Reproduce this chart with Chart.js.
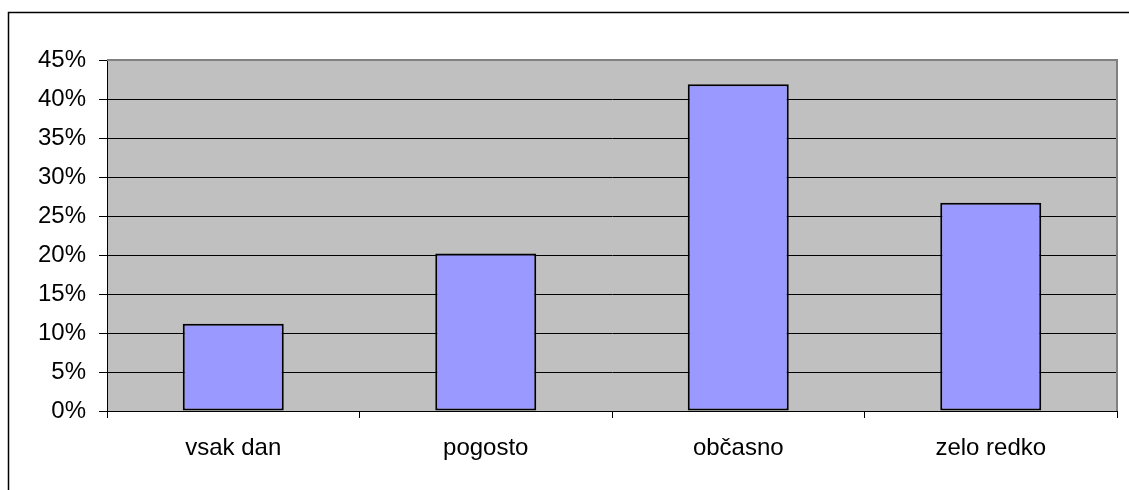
<!DOCTYPE html>
<html>
<head>
<meta charset="utf-8">
<script src="https://cdn.jsdelivr.net/npm/chart.js@4/dist/chart.umd.min.js"></script>
<style>
  html, body { margin: 0; padding: 0; background: #fff; }
  #wrap { width: 1129px; height: 490px; position: relative; }
</style>
</head>
<body>
<div id="wrap"><canvas id="myChart"></canvas></div>
<script>
(() => {
    "use strict";

    const categories = ["vsak dan", "pogosto", "občasno", "zelo redko"];
    const shares = [11.2, 20.2, 41.9, 26.7];
    const tickValues = [0, 5, 10, 15, 20, 25, 30, 35, 40, 45];

    // gray plot background, gray top/right border, outer frame
    const plotBackground = {
        id: "plotBackground",
        beforeDraw(chart) {
            const { ctx, chartArea: a } = chart;
            ctx.save();
            ctx.strokeStyle = "#000";
            ctx.lineWidth = 1.5;
            ctx.strokeRect(8.5, 12.5, 1200, 600);
            ctx.fillStyle = "#C0C0C0";
            ctx.fillRect(a.left, a.top, a.right - a.left, a.bottom - a.top);
            ctx.restore();
        },
        afterDatasetsDraw(chart) {
            const { ctx, chartArea: a } = chart;
            ctx.save();
            ctx.strokeStyle = "#808080";
            ctx.lineWidth = 2;
            ctx.beginPath();
            ctx.moveTo(a.left, a.top);
            ctx.lineTo(a.right, a.top);
            ctx.lineTo(a.right, a.bottom);
            ctx.stroke();
            ctx.restore();
        },
    };

    const font = { family: "'Liberation Sans', Arial, sans-serif", size: 24 };

    const canvas = document.getElementById("myChart");
    // @ts-ignore
    new Chart(canvas, {
        type: "bar",
        data: {
            labels: categories,
            datasets: [{
                data: shares,
                backgroundColor: "#9999FF",
                borderColor: "#000",
                borderWidth: 2,
                borderSkipped: false,
                barPercentage: 0.4,
                categoryPercentage: 1,
            }],
        },
        options: {
            responsive: true,
            maintainAspectRatio: false,
            animation: false,
            layout: { padding: { top: 60, right: 12, left: 0, bottom: 0 } },
            plugins: {
                legend: { display: false },
                tooltip: { enabled: false },
            },
            scales: {
                x: {
                    afterFit: (s) => { s.height = 79; },
                    grid: {
                        offset: true,
                        drawOnChartArea: false,
                        color: "#000",
                        tickLength: 7,
                    },
                    border: { color: "#000", width: 1 },
                    ticks: { color: "#000", padding: 16, font },
                },
                y: {
                    min: 0,
                    max: 45,
                    afterFit: (s) => { s.width = 107; },
                    afterBuildTicks: (s) => { s.ticks = tickValues.map((v) => ({ value: v })); },
                    grid: { color: "#000", lineWidth: 1, tickLength: 8 },
                    border: { color: "#000", width: 1 },
                    ticks: {
                        color: "#000",
                        padding: 13,
                        font,
                        callback: (v) => v + "%",
                    },
                },
            },
        },
        plugins: [plotBackground],
    });
})();
</script>
</body>
</html>
